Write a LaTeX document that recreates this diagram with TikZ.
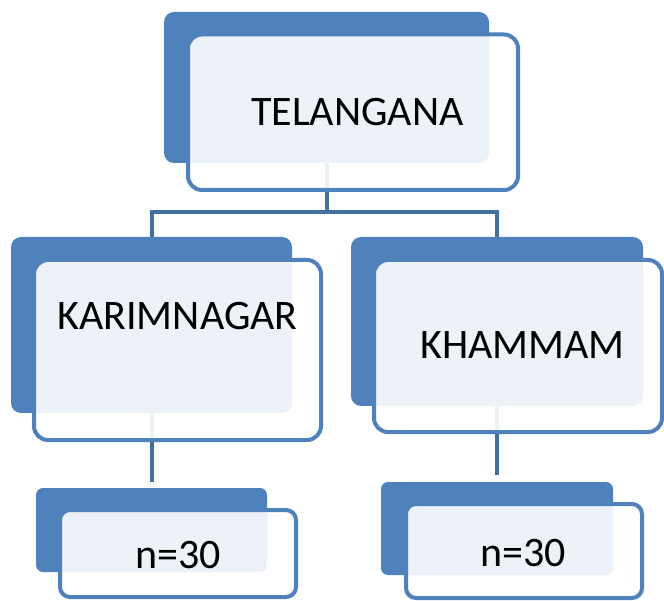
\documentclass[tikz,border=0pt]{standalone}
\usepackage{fontspec}
\setmainfont{Carlito}
\usetikzlibrary{fit,backgrounds}
\definecolor{accblue}{HTML}{4F81BD}
\definecolor{connblue}{HTML}{41719C}
\tikzset{
  bluebox/.style={fill=accblue, draw=none, rounded corners=10pt, inner sep=0pt, outer sep=0pt},
  smallblue/.style={bluebox, rounded corners=7pt},
  outbox/.style={draw=accblue, line width=4pt, fill=white, fill opacity=0.9, rounded corners=14pt, inner sep=0pt, outer sep=0pt},
  smallout/.style={outbox, rounded corners=10pt},
  conn/.style={draw=connblue, line width=4pt, line join=miter},
  lbl/.style={font=\fontsize{42}{50}\selectfont, text=black, inner sep=0pt, anchor=base},
}
\begin{document}
\begin{tikzpicture}[x=1pt,y=-1pt]
\useasboundingbox (0,0) rectangle (664,601);
% top
\node[bluebox, fit={(164,12) (489,163)}] (tel) {};
\node[outbox, fit={(188,34.5) (518,190)}] (telO) {};
\node[lbl] (telT) at (357.5,126) {TELANGANA};
% middle left
\node[bluebox, fit={(11,237) (292,413)}] (kar) {};
\node[outbox, fit={(34,260) (321,440)}] (karO) {};
\node[lbl] (karT) at (177.5,330) {KARIMNAGAR};
% middle right
\node[bluebox, fit={(351,237) (643,406)}] (kha) {};
\node[outbox, fit={(374,260) (662,432)}] (khaO) {};
\node[lbl] (khaT) at (522.5,359) {KHAMMAM};
% bottom left
\node[smallblue, fit={(36,488) (267,572)}] (na) {};
\node[smallout, fit={(60,510) (296,597)}] (naO) {};
\node[lbl] (naT) at (178.5,568) {n=30};
% bottom right
\node[smallblue, fit={(381,482) (613,575)}] (nb) {};
\node[smallout, fit={(406,504) (642,598)}] (nbO) {};
\node[lbl] (nbT) at (523.5,566) {n=30};
% connectors
\begin{scope}[on background layer]
\coordinate (bar) at (0,212);
\draw[conn] (tel.south) -- (tel.south |- bar) -| (kar.north);
\draw[conn] (tel.south |- bar) -| (kha.north);
\draw[conn, shorten >=6pt] (kar.south) -- (na.north);
\draw[conn, shorten >=7pt] (kha.south) -- (nb.north);
\end{scope}
\end{tikzpicture}
\end{document}
